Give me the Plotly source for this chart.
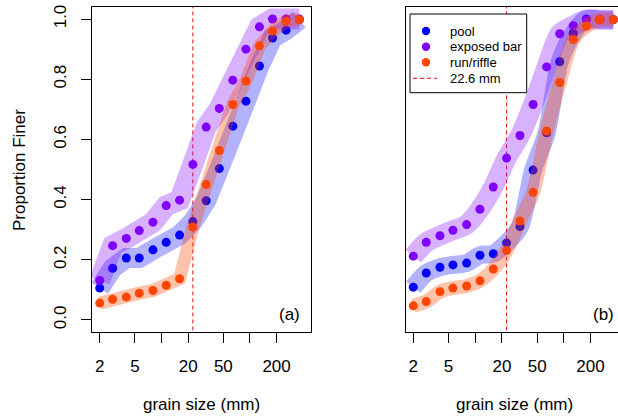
import plotly.graph_objects as go

# ---------------- data ----------------
sizes = [2, 2.8, 4, 5.6, 8, 11.3, 16, 22.6, 32, 45, 64, 90, 128, 180, 256, 362]

pool_a = [0.106, 0.172, 0.206, 0.206, 0.233, 0.258, 0.282, 0.327, 0.396, 0.503, 0.644, 0.727, 0.844, 0.937, 0.963, 0.998]
bar_a = [0.131, 0.247, 0.271, 0.297, 0.325, 0.380, 0.398, 0.517, 0.641, 0.703, 0.797, 0.900, 0.974, 1.000, 1.000, 1.000]
riffle_a = [0.056, 0.069, 0.076, 0.089, 0.098, 0.115, 0.137, 0.309, 0.450, 0.563, 0.716, 0.794, 0.911, 0.960, 0.993, 0.998]

pool_b = [0.109, 0.156, 0.175, 0.183, 0.189, 0.215, 0.220, 0.256, 0.310, 0.498, 0.622, 0.858, 0.953, 1.000, 0.998, 0.998]
bar_b = [0.212, 0.258, 0.280, 0.298, 0.317, 0.368, 0.442, 0.538, 0.613, 0.716, 0.841, 0.951, 0.978, 0.998, 0.998, 0.998]
riffle_b = [0.047, 0.061, 0.094, 0.106, 0.113, 0.130, 0.169, 0.231, 0.329, 0.424, 0.628, 0.789, 0.932, 0.976, 0.998, 0.998]

series_names = ["pool", "exposed bar", "run/riffle"]
threshold_mm = 22.6
threshold_label = "22.6 mm"

x_tick_vals = [2, 5, 10, 20, 50, 100, 200]
x_tick_text = ["2", "5", "", "20", "50", "", "200"]
y_tick_vals = [0.0, 0.2, 0.4, 0.6, 0.8, 1.0]
y_tick_text = ["0.0", "0.2", "0.4", "0.6", "0.8", "1.0"]

# ---------------- styles ----------------
point_colors = ["#0000FF", "#8000FF", "#FF4500"]
band_colors = ["rgba(0,0,255,0.30)", "rgba(128,0,255,0.30)", "rgba(255,69,0,0.33)"]
band_widths_a = [20, 21, 13]
band_widths_b = [18, 20, 14]
line_red = "#EE1111"
FONT = "Liberation Sans, Arial, Helvetica, sans-serif"

fig = go.Figure()

panels = [
    ("x", "y", [pool_a, bar_a, riffle_a], band_widths_a, "linear"),
    ("x2", "y2", [pool_b, bar_b, riffle_b], band_widths_b, "spline"),
]

for xa, ya, data, widths, shape in panels:
    fig.add_trace(go.Scatter(
        x=[threshold_mm, threshold_mm], y=[-0.5, 1.5], mode="lines",
        line=dict(color=line_red, width=1, dash="4px,3px"),
        name=threshold_label, showlegend=False,
        xaxis=xa, yaxis=ya, hoverinfo="skip"))
    for i, vals in enumerate(data):
        fig.add_trace(go.Scatter(
            x=sizes, y=vals, mode="lines",
            line=dict(color=band_colors[i], width=widths[i], shape=shape, smoothing=0.8),
            showlegend=False, xaxis=xa, yaxis=ya, hoverinfo="skip"))
        fig.add_trace(go.Scatter(
            x=sizes, y=vals, mode="markers",
            marker=dict(color=point_colors[i], size=9, line=dict(width=0)),
            name=series_names[i], showlegend=False,
            xaxis=xa, yaxis=ya))

W, H = 618, 416
ML, MR, MT, MB = 92, 0, 7, 84
PW = W - ML - MR
PH = H - MT - MB

def px(xpix):
    return (xpix - ML) / PW

def py(ypix):
    return (H - MB - ypix) / PH

axis_common = dict(
    type="log", showgrid=False, zeroline=False, showline=True,
    linecolor="black", linewidth=1, ticks="outside", ticklen=10,
    tickwidth=1, tickcolor="black", tickvals=x_tick_vals, ticktext=x_tick_text,
    tickfont=dict(size=17, color="black", family=FONT), ticklabelstandoff=9,
)

fig.update_layout(
    width=W, height=H,
    margin=dict(l=ML, r=MR, t=MT, b=MB),
    paper_bgcolor="white", plot_bgcolor="white",
    font=dict(family=FONT, color="black"),
    xaxis=dict(domain=[0, px(310.7)], range=[0.2138, 2.687], mirror=True,
               anchor="y", **axis_common),
    xaxis2=dict(domain=[px(405.7), 1.0], range=[0.2152, 2.6117], mirror=True,
                anchor="y2", **axis_common),
    yaxis=dict(domain=[0, 1], range=[-0.04, 1.04], showgrid=False, zeroline=False,
               showline=True, linecolor="black", linewidth=1, mirror=True,
               ticks="outside", ticklen=10, tickwidth=1, tickcolor="black",
               tickvals=y_tick_vals, ticktext=y_tick_text, tickangle=-90,
               tickfont=dict(size=17, color="black", family=FONT),
               ticklabelstandoff=8, anchor="x"),
    yaxis2=dict(domain=[0, 1], range=[-0.04, 1.04], showgrid=False, zeroline=False,
                showline=True, linecolor="black", linewidth=1, mirror=False,
                ticks="", showticklabels=False, anchor="x2"),
    showlegend=False,
)

# ---------------- manual legend (panel b) ----------------
shapes = [dict(type="rect", xref="paper", yref="paper",
               x0=px(410), x1=px(526.7), y0=py(14), y1=py(92.7),
               line=dict(color="black", width=1), fillcolor="white", layer="above")]
annotations = []
legend_rows = [31, 46.7, 62.3, 78.3]
legend_labels = series_names + [threshold_label]
r = 4.2
for k, yrow in enumerate(legend_rows):
    if k < 3:
        shapes.append(dict(type="circle", xref="paper", yref="paper",
                           x0=px(426 - r), x1=px(426 + r), y0=py(yrow + r), y1=py(yrow - r),
                           fillcolor=point_colors[k], line=dict(width=0), layer="above"))
    else:
        shapes.append(dict(type="line", xref="paper", yref="paper",
                           x0=px(413), x1=px(437), y0=py(yrow), y1=py(yrow),
                           line=dict(color=line_red, width=1, dash="4px,3px"), layer="above"))
    annotations.append(dict(text=legend_labels[k], x=px(448), y=py(yrow),
                            xanchor="left", font=dict(size=13)))

annotations += [
    dict(text="Proportion Finer", x=px(20), y=py(170), textangle=-90,
         font=dict(size=17)),
    dict(text="grain size (mm)", x=px(201.5), y=py(404), font=dict(size=17)),
    dict(text="grain size (mm)", x=px(514.9), y=py(404), font=dict(size=17)),
    dict(text="(a)", x=px(301.7), y=py(314), xanchor="right", font=dict(size=17)),
    dict(text="(b)", x=px(616), y=py(314), xanchor="right", font=dict(size=17)),
]
for a in annotations:
    a.update(xref="paper", yref="paper", showarrow=False,
             xanchor=a.get("xanchor", "center"), yanchor="middle")
    a["font"].update(family=FONT, color="black")
fig.update_layout(annotations=annotations, shapes=shapes)

fig.write_html("out.html")
